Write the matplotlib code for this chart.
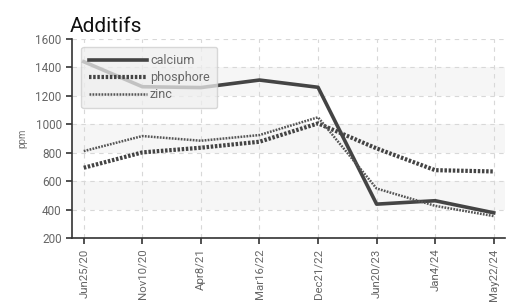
import matplotlib
matplotlib.use("Agg")
import matplotlib.pyplot as plt

dates = ["Jun25/20", "Nov10/20", "Apr8/21", "Mar16/22", "Dec21/22", "Jun20/23", "Jan4/24", "May22/24"]
calcium = [1440, 1264, 1258, 1311, 1260, 438, 462, 377]
phosphore = [694, 802, 835, 877, 1006, 830, 677, 668]
zinc = [811, 917, 884, 924, 1049, 548, 426, 354]
yticks = [200, 400, 600, 800, 1000, 1200, 1400, 1600]

plt.rcParams['font.family'] = ['Roboto', 'DejaVu Sans']
fig = plt.figure(figsize=(5.11, 3.02), dpi=100)
ax = fig.add_axes([0.141, 0.212, 0.847, 0.659])
x = list(range(len(dates)))

for lo in (400, 800, 1200):
    ax.axhspan(lo, lo + 200, color='#f6f6f6', zorder=0, lw=0)

ax.plot(x, calcium, color='#444444', lw=2.6, label='calcium', zorder=3)
ax.plot(x, phosphore, color='#444444', lw=3.0, ls=(0, (0.6, 0.4)), label='phosphore', zorder=3)
ax.plot(x, zinc, color='#555555', lw=1.8, ls=(0, (0.7, 0.5)), label='zinc', zorder=3)

ax.set_xlim(-0.2, 7.19)
ax.set_ylim(200, 1600)
ax.set_yticks(yticks)
ax.set_xticks(x)
ax.set_xticklabels(dates, rotation=90)
ax.grid(True, color='#d8d8d8', ls=(0, (4, 4)), lw=0.8)
ax.set_axisbelow(True)
for s in ('top', 'right'):
    ax.spines[s].set_visible(False)
for s in ('left', 'bottom'):
    ax.spines[s].set_color('#333333')
    ax.spines[s].set_linewidth(1.2)
ax.tick_params(axis='both', colors='#333333', labelcolor='#666666', length=4, width=1.2)
ax.tick_params(axis='x', labelsize=8.2)
ax.tick_params(axis='y', labelsize=8.5)
ax.set_ylabel('ppm', fontsize=7, color='#777777', labelpad=6)
ax.set_title('Additifs', loc='left', fontsize=15, color='#111111', x=-0.005, pad=5)

leg = ax.legend(loc='upper left', fontsize=9, handlelength=4.7, handletextpad=0.2,
                labelspacing=0.3, borderpad=0.6, borderaxespad=0, fancybox=True, framealpha=0.75,
                facecolor='#eeeeee', edgecolor='#cccccc', bbox_to_anchor=(0.021, 0.96))
for t in leg.get_texts():
    t.set_color('#666666')

fig.savefig('out.png', dpi=100)
